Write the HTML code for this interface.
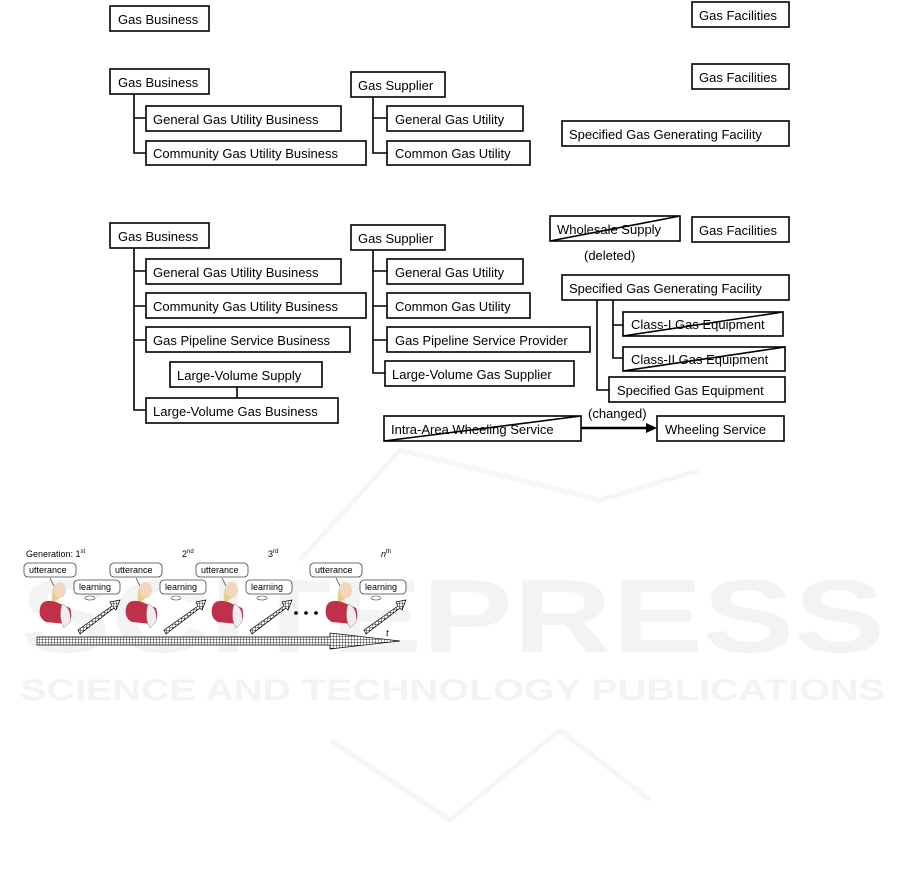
<!DOCTYPE html>
<html><head><meta charset="utf-8"><style>
html,body{margin:0;padding:0;background:#fff;}
svg{display:block;}
.b{fill:#fff;stroke:#000;stroke-width:1.6;}
.t{font-family:"Liberation Sans",sans-serif;font-size:13px;fill:#000;}
.l{stroke:#000;stroke-width:1.6;fill:none;}
.s{font-family:"Liberation Sans",sans-serif;font-size:9px;fill:#000;}
</style></head><body>
<svg width="901" height="875" viewBox="0 0 901 875" xmlns="http://www.w3.org/2000/svg">
<!-- watermark -->
<g fill="#f3f3f3" font-family="Liberation Sans,sans-serif" font-weight="bold">
<text x="20" y="652" font-size="104" textLength="865" lengthAdjust="spacingAndGlyphs">SCITEPRESS</text>
<text x="20" y="700" font-size="30" textLength="865" lengthAdjust="spacingAndGlyphs">SCIENCE AND TECHNOLOGY PUBLICATIONS</text>
</g>
<g stroke="#f6f6f6" stroke-width="5" fill="none">
<path d="M300 560 L400 450 L600 500 L700 470"/>
<path d="M330 740 L450 820 L560 730 L650 800"/>
</g>

<!-- section 1 -->
<rect class="b" x="110" y="6" width="99" height="25"/><text class="t" x="118" y="24">Gas Business</text>
<rect class="b" x="692" y="2" width="97" height="25"/><text class="t" x="699" y="20">Gas Facilities</text>

<!-- section 2 -->
<rect class="b" x="110" y="69" width="99" height="25"/><text class="t" x="118" y="87">Gas Business</text>
<path class="l" d="M134 94 V153 H146 M134 118 H146"/>
<rect class="b" x="146" y="106" width="195" height="25"/><text class="t" x="153" y="124">General Gas Utility Business</text>
<rect class="b" x="146" y="141" width="220" height="24"/><text class="t" x="153" y="158">Community Gas Utility Business</text>
<rect class="b" x="351" y="72" width="94" height="25"/><text class="t" x="358" y="90">Gas Supplier</text>
<path class="l" d="M373 97 V153 H387 M373 118 H387"/>
<rect class="b" x="387" y="106" width="136" height="25"/><text class="t" x="395" y="124">General Gas Utility</text>
<rect class="b" x="387" y="141" width="143" height="24"/><text class="t" x="395" y="158">Common Gas Utility</text>
<rect class="b" x="692" y="64" width="97" height="25"/><text class="t" x="699" y="82">Gas Facilities</text>
<rect class="b" x="562" y="121" width="227" height="25"/><text class="t" x="569" y="139">Specified Gas Generating Facility</text>

<!-- section 3 -->
<rect class="b" x="550" y="216" width="130" height="25"/><text class="t" x="557" y="234">Wholesale Supply</text>
<path class="l" d="M550 241 L680 216"/>
<rect class="b" x="692" y="217" width="97" height="25"/><text class="t" x="699" y="235">Gas Facilities</text>
<text class="t" x="584" y="260">(deleted)</text>

<rect class="b" x="110" y="223" width="99" height="25"/><text class="t" x="118" y="241">Gas Business</text>
<path class="l" d="M134 248 V410 H146 M134 271 H146 M134 306 H146 M134 340 H146 M237 387 V398"/>
<rect class="b" x="146" y="259" width="195" height="25"/><text class="t" x="153" y="277">General Gas Utility Business</text>
<rect class="b" x="146" y="293" width="220" height="25"/><text class="t" x="153" y="311">Community Gas Utility Business</text>
<rect class="b" x="146" y="327" width="204" height="25"/><text class="t" x="153" y="345">Gas Pipeline Service Business</text>
<rect class="b" x="170" y="362" width="152" height="25"/><text class="t" x="177" y="380">Large-Volume Supply</text>
<rect class="b" x="146" y="398" width="192" height="25"/><text class="t" x="153" y="416">Large-Volume Gas Business</text>

<rect class="b" x="351" y="225" width="94" height="25"/><text class="t" x="358" y="243">Gas Supplier</text>
<path class="l" d="M373 250 V373 H385 M373 271 H387 M373 306 H387 M373 340 H387"/>
<rect class="b" x="387" y="259" width="136" height="25"/><text class="t" x="395" y="277">General Gas Utility</text>
<rect class="b" x="387" y="293" width="143" height="25"/><text class="t" x="395" y="311">Common Gas Utility</text>
<rect class="b" x="387" y="327" width="203" height="25"/><text class="t" x="395" y="345">Gas Pipeline Service Provider</text>
<rect class="b" x="385" y="361" width="189" height="25"/><text class="t" x="392" y="379">Large-Volume Gas Supplier</text>

<rect class="b" x="562" y="275" width="227" height="25"/><text class="t" x="569" y="293">Specified Gas Generating Facility</text>
<path class="l" d="M597 300 V390 H609 M613 300 V358 H623 M613 325 H623"/>
<rect class="b" x="623" y="312" width="160" height="24"/><text class="t" x="631" y="329">Class-I Gas Equipment</text>
<path class="l" d="M623 336 L783 312"/>
<rect class="b" x="623" y="347" width="162" height="24"/><text class="t" x="631" y="364">Class-II Gas Equipment</text>
<path class="l" d="M623 371 L785 347"/>
<rect class="b" x="609" y="377" width="176" height="25"/><text class="t" x="617" y="395">Specified Gas Equipment</text>

<rect class="b" x="384" y="416" width="197" height="25"/><text class="t" x="391" y="434">Intra-Area Wheeling Service</text>
<path class="l" d="M384 441 L581 416"/>
<path d="M581 428 H648" stroke="#000" stroke-width="2.5"/>
<path d="M657 428 L646 423 L646 433 Z" fill="#000"/>
<text class="t" x="588" y="418">(changed)</text>
<rect class="b" x="657" y="416" width="127" height="25"/><text class="t" x="665" y="434">Wheeling Service</text>

<!-- bottom figure -->
<text class="s" x="26" y="557">Generation:  1<tspan font-size="6" dy="-4">st</tspan></text>
<text class="s" x="182" y="557">2<tspan font-size="6" dy="-4">nd</tspan></text>
<text class="s" x="268" y="557">3<tspan font-size="6" dy="-4">rd</tspan></text>
<text class="s" x="381" y="557" font-style="italic">n<tspan font-size="6" dy="-4" font-style="normal">th</tspan></text>
<defs>
<pattern id="hp" width="3" height="3" patternUnits="userSpaceOnUse"><rect width="3" height="3" fill="#fff"/><path d="M0 0H3M0 0V3" stroke="#000" stroke-width="0.8"/></pattern>
<g id="fig">
<rect x="4" y="5" width="52" height="14" rx="4" fill="#fff" stroke="#444" stroke-width="0.8"/>
<text class="s" x="9" y="15">utterance</text>
<path d="M30 20 L34 28" stroke="#444" stroke-width="0.8"/>
<rect x="54" y="22" width="46" height="14" rx="4" fill="#fff" stroke="#444" stroke-width="0.8"/>
<text class="s" x="59" y="32">learning</text>
<ellipse cx="70" cy="40" rx="5" ry="2" fill="#fff" stroke="#444" stroke-width="0.6"/>
<path d="M38 24 Q30 30 32 46 L40 40 Z" fill="#e8d088"/>
<ellipse cx="40" cy="32" rx="6" ry="8" fill="#f2d6c0"/>
<path d="M20 50 Q22 40 36 44 L50 50 Q54 62 46 66 L26 64 Q18 60 20 50Z" fill="#c0304a"/>
<path d="M42 46 Q52 50 50 64 L44 70 Q38 60 42 46Z" fill="#eee" stroke="#888" stroke-width="0.5"/>
<path d="M58 72 L92 48 L90 44 L100 42 L96 52 L94 50 L60 76 Z" fill="url(#hp)" stroke="#000" stroke-width="0.7"/>
</g>
</defs>
<use href="#fig" x="20" y="558"/>
<use href="#fig" x="106" y="558"/>
<use href="#fig" x="192" y="558"/>
<use href="#fig" x="306" y="558"/>
<circle cx="296" cy="613" r="1.8" fill="#000"/><circle cx="306" cy="613" r="1.8" fill="#000"/><circle cx="316" cy="613" r="1.8" fill="#000"/>
<path d="M37 637 H330 L330 633 L400 641 L330 649 L330 645 H37 Z" fill="url(#hp)" stroke="#000" stroke-width="0.7"/>
<text class="s" x="386" y="636" font-style="italic">t</text>
</svg>
</body></html>
